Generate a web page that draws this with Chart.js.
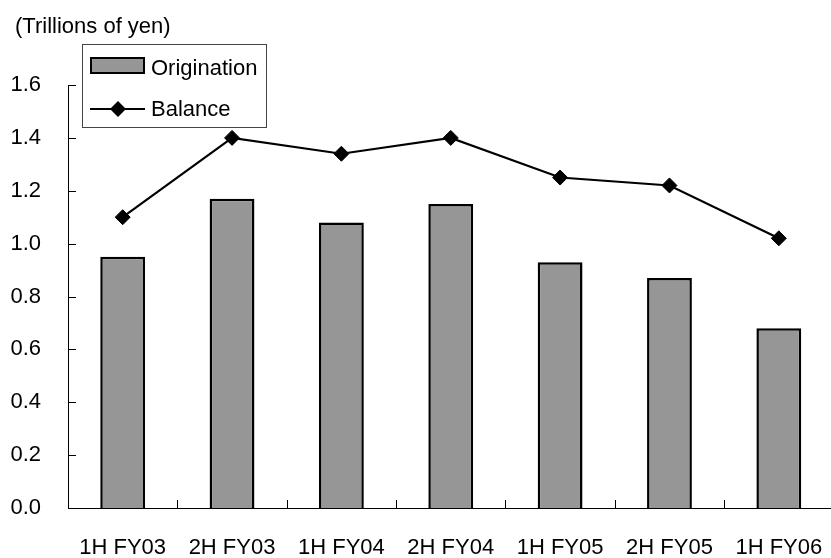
<!DOCTYPE html>
<html>
<head>
<meta charset="utf-8">
<script src="https://cdn.jsdelivr.net/npm/chart.js@4/dist/chart.umd.min.js"></script>
<style>
  html, body { margin: 0; padding: 0; background: #fff; overflow: hidden; }
  canvas { display: block; }
</style>
</head>
<body>
<canvas id="myChart" width="842" height="558"></canvas>
<script>
const labels = ['1H FY03', '2H FY03', '1H FY04', '2H FY04', '1H FY05', '2H FY05', '1H FY06'];
const origination = [0.95, 1.17, 1.08, 1.15, 0.93, 0.87, 0.68];
const balance = [1.10, 1.40, 1.34, 1.40, 1.25, 1.22, 1.02];
const yTicks = [0, 0.2, 0.4, 0.6, 0.8, 1.0, 1.2, 1.4, 1.6];
const unitText = '(Trillions of yen)';

const FONT = "'Liberation Sans', Arial, sans-serif";
const FONT_SIZE = 22;
const BAR_FILL = '#969696';

// small tick marks pointing into the plot, on both axes
const inwardTicks = {
    id: 'inwardTicks',
    afterDatasetsDraw(chart) {
        const { ctx, chartArea, scales: { x, y } } = chart;
        ctx.save();
        ctx.strokeStyle = '#000';
        ctx.lineWidth = 1;
        ctx.beginPath();
        y.ticks.forEach(t => {
            if (t.value === 0) return;
            const py = Math.round(y.getPixelForValue(t.value)) + 0.5;
            ctx.moveTo(chartArea.left, py);
            ctx.lineTo(chartArea.left + 8, py);
        });
        for (let i = 1; i < labels.length; i++) {
            const px = Math.round(x.getPixelForValue(i - 0.5)) + 0.5;
            ctx.moveTo(px, chartArea.bottom);
            ctx.lineTo(px, chartArea.bottom - 8);
        }
        ctx.stroke();
        ctx.restore();
    }
};

// unit caption and the boxed legend in the top left corner
const annotations = {
    id: 'annotations',
    afterDraw(chart) {
        const ctx = chart.ctx;
        const sets = chart.data.datasets;
        ctx.save();
        ctx.font = FONT_SIZE + 'px ' + FONT;
        ctx.fillStyle = '#000';
        ctx.textBaseline = 'alphabetic';
        ctx.textAlign = 'left';
        ctx.fillText(unitText, 15, 33);

        // legend frame
        ctx.fillStyle = '#fff';
        ctx.fillRect(82, 44, 184, 83);
        ctx.strokeStyle = '#444';
        ctx.lineWidth = 1;
        ctx.strokeRect(82.5, 44.5, 184, 83);

        // bar swatch
        const bar = sets.find(d => d.type === 'bar');
        ctx.fillStyle = bar.backgroundColor;
        ctx.fillRect(90, 57, 55, 17);
        ctx.strokeStyle = bar.borderColor;
        ctx.lineWidth = 2;
        ctx.strokeRect(91, 58, 53, 15);
        ctx.fillStyle = '#000';
        ctx.fillText(bar.label, 151, 75);

        // line swatch with its diamond
        const line = sets.find(d => d.type === 'line');
        ctx.strokeStyle = line.borderColor;
        ctx.lineWidth = 2;
        ctx.beginPath();
        ctx.moveTo(90, 109);
        ctx.lineTo(145, 109);
        ctx.stroke();
        ctx.fillStyle = line.pointBackgroundColor;
        ctx.beginPath();
        ctx.moveTo(118, 101);
        ctx.lineTo(126, 109);
        ctx.lineTo(118, 117);
        ctx.lineTo(110, 109);
        ctx.closePath();
        ctx.fill();
        ctx.fillStyle = '#000';
        ctx.fillText(line.label, 151, 116);
        ctx.restore();
    }
};

const data = {
    labels: labels,
    datasets: [{
        type: 'line',
        label: 'Balance',
        data: balance,
        order: 0,
        borderColor: '#000',
        borderWidth: 2.2,
        pointStyle: 'rectRot',
        pointRadius: 7.5,
        pointBackgroundColor: '#000',
        pointBorderColor: '#000',
        pointBorderWidth: 1,
        tension: 0,
    }, {
        type: 'bar',
        label: 'Origination',
        data: origination,
        order: 1,
        backgroundColor: BAR_FILL,
        borderColor: '#000',
        borderWidth: 2.5,
        barPercentage: 0.41,
        categoryPercentage: 1,
    }]
};

const config = {
    data: data,
    options: {
        responsive: false,
        animation: false,
        layout: { padding: { top: 85, left: 0, right: 0, bottom: 0 } },
        plugins: {
            legend: { display: false },
            tooltip: { enabled: false },
        },
        scales: {
            x: {
                type: 'category',
                offset: true,
                grid: { display: false, drawTicks: false },
                border: { display: true, color: '#000', width: 1 },
                ticks: {
                    color: '#000',
                    padding: 27,
                    maxRotation: 0,
                    autoSkip: false,
                    font: { family: FONT, size: FONT_SIZE },
                },
                // labels sit inside their categories, no side padding needed
                afterFit: s => {
                    s.height = 50;
                    s.paddingLeft = 0;
                    s.paddingRight = 0;
                },
            },
            y: {
                min: 0,
                max: 1.6,
                grid: { display: false, drawTicks: false },
                border: { display: true, color: '#000', width: 1 },
                afterBuildTicks: s => { s.ticks = yTicks.map(v => ({ value: v })); },
                ticks: {
                    color: '#000',
                    padding: 27,
                    callback: v => Number(v).toFixed(1),
                    font: { family: FONT, size: FONT_SIZE },
                },
                afterFit: s => { s.width = 68; },
            }
        }
    },
    plugins: [inwardTicks, annotations]
};

const myChart = new Chart(
    document.getElementById('myChart'),
    config
);
</script>
</body>
</html>
